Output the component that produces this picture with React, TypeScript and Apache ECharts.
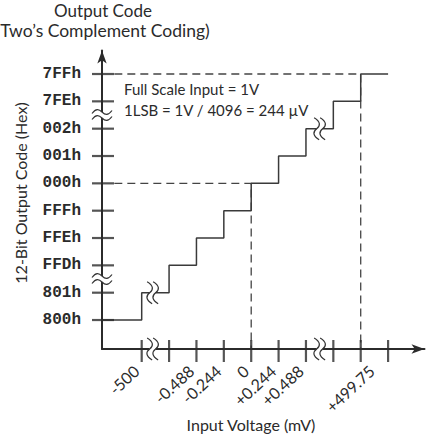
import React, { useEffect, useRef } from "react";
import * as echarts from "echarts";

// ---- data ----
const codeLabels = ["800h", "801h", "FFDh", "FFEh", "FFFh", "000h", "001h", "002h", "7FEh", "7FFh"];
const codeLevels = [0, 1, 2, 3, 4, 5, 6, 7, 8, 9];
const xTickPositions = [1, 2, 3, 4, 5, 6, 7, 8, 9, 10];
// label anchor positions along the x axis (the +499.75 label sits a little right of its tick in the reference)
const xLabelPositions = [1, 3, 4, 5, 6, 7, 9.6];
const xLabelTexts = ["-500", "-0.488", "-0.244", "0", "+0.244", "+0.488", "+499.75"];
// staircase: transition points (x position, code level)
const stairX = [1, 2, 3, 4, 5, 6, 7, 8, 9, 10];
const stairY = [1, 2, 3, 4, 5, 6, 7, 8, 9, 9];
const zeroCode = 5; // 000h
const zeroX = 5; // 0 mV
const fullCode = 9; // 7FFh
const fullX = 9; // +499.75 mV
const xAxisBreaks = [1.4, 7.5];
const yAxisBreaks = [1.5, 7.5];
const lineBreaks: [number, number][] = [[1.4, 1], [7.5, 7]];

const X_MIN = -0.45;
const X_MAX = 11.33;
const Y_MIN = -1.06;
const Y_MAX = 9.86;

const INK = "#2b2b2b";
const SANS = "Lato, 'Open Sans', sans-serif";

export default function App() {
  const ref = useRef<HTMLDivElement>(null);
  useEffect(() => {
    if (!ref.current) return;
    document.body.style.margin = "0";
    const chart = echarts.init(ref.current, undefined, { renderer: "svg" });

    const stairData: number[][] = [[X_MIN, 0]];
    stairX.forEach((x, i) => stairData.push([x, stairY[i]]));

    const breakData: number[][] = [
      ...xAxisBreaks.map((x) => [x, Y_MIN, 0]),
      ...yAxisBreaks.map((y) => [X_MIN, y, 1]),
      ...lineBreaks.map(([x, y]) => [x, y, 0]),
    ];

    const squiggleV = (cx: number, cy: number) =>
      `M${cx - 2.5} ${cy - 11} C${cx + 4} ${cy - 7} ${cx + 4} ${cy - 3} ${cx} ${cy} C${cx - 4} ${cy + 3} ${cx - 4} ${cy + 7} ${cx + 2.5} ${cy + 11}`;
    const squiggleH = (cx: number, cy: number) =>
      `M${cx - 10} ${cy + 1.5} C${cx - 6} ${cy - 4} ${cx - 3} ${cy - 3} ${cx} ${cy} C${cx + 3} ${cy + 3} ${cx + 6} ${cy + 4} ${cx + 10} ${cy - 1.5}`;

    const labelFor = (v: number) => {
      let best = -1;
      let bd = Infinity;
      xLabelPositions.forEach((p, i) => {
        const d = Math.abs(p - v);
        if (d < bd) { bd = d; best = i; }
      });
      return bd < 0.01 ? xLabelTexts[best] : "";
    };

    chart.setOption({
      animation: false,
      grid: { left: 102, right: 7.5, top: 50.5, bottom: 85, outerBoundsMode: "none" },
      xAxis: {
        type: "value",
        min: X_MIN,
        max: X_MAX,
        splitLine: { show: false },
        axisTick: { show: false },
        axisLine: {
          show: true,
          onZero: false,
          symbol: ["none", "arrow"],
          symbolSize: [7, 13],
          lineStyle: { color: INK, width: 2 },
        },
        axisLabel: {
          customValues: xLabelPositions,
          formatter: (v: number) => labelFor(v),
          rotate: 43,
          margin: 25,
          verticalAlign: "bottom",
          fontFamily: SANS,
          fontSize: 16,
          color: INK,
        },
      },
      yAxis: {
        type: "value",
        min: Y_MIN,
        max: Y_MAX,
        splitLine: { show: false },
        axisTick: { show: false },
        axisLine: {
          show: true,
          onZero: false,
          symbol: ["none", "arrow"],
          symbolSize: [7, 13],
          lineStyle: { color: INK, width: 2 },
        },
        axisLabel: {
          customValues: codeLevels,
          formatter: (v: number) => codeLabels[Math.round(v)] ?? "",
          margin: 21,
          fontFamily: "'Liberation Mono', 'Courier New', monospace",
          fontWeight: "bold",
          fontSize: 16,
          color: INK,
        },
      },
      series: [
        {
          type: "line",
          data: stairData,
          step: "end",
          symbol: "none",
          lineStyle: { color: "#3a3a3a", width: 1.5 },
          z: 3,
        },
        {
          type: "line",
          data: [[0, fullCode], [fullX, fullCode], [fullX, Y_MIN]],
          symbol: "none",
          lineStyle: { color: "#444", width: 1.3, type: [8, 5] },
          z: 2,
        },
        {
          type: "line",
          data: [[0, zeroCode], [zeroX, zeroCode], [zeroX, Y_MIN]],
          symbol: "none",
          lineStyle: { color: "#444", width: 1.3, type: [8, 5] },
          z: 2,
        },
        {
          type: "scatter",
          data: codeLevels.map((c) => [X_MIN, c]),
          symbol: "rect",
          symbolSize: [22, 2.2],
          symbolOffset: [1, 0],
          itemStyle: { color: INK },
          clip: false,
          silent: true,
          z: 4,
        },
        {
          type: "scatter",
          data: xTickPositions.map((x) => [x, Y_MIN]),
          symbol: "rect",
          symbolSize: [2.2, 22],
          symbolOffset: [0, 2],
          itemStyle: { color: INK },
          clip: false,
          silent: true,
          z: 4,
        },
        {
          type: "custom",
          data: breakData,
          clip: false,
          silent: true,
          z: 10,
          renderItem: (params: any, api: any) => {
            const pt = api.coord([api.value(0), api.value(1)]);
            const cx = pt[0];
            const cy = pt[1];
            const o = api.value(2);
            const d = 3;
            const children: any[] = [];
            if (o === 0) {
              children.push({ type: "rect", shape: { x: cx - d, y: cy - 3, width: 2 * d, height: 6 }, style: { fill: "#fff" } });
              for (const dx of [-d, d]) {
                children.push({ type: "path", shape: { pathData: squiggleV(cx + dx, cy) }, style: { fill: "none", stroke: "#333", lineWidth: 1.2 } });
              }
            } else {
              children.push({ type: "rect", shape: { x: cx - 3, y: cy - d, width: 6, height: 2 * d }, style: { fill: "#fff" } });
              for (const dy of [-d, d]) {
                children.push({ type: "path", shape: { pathData: squiggleH(cx, cy + dy) }, style: { fill: "none", stroke: "#333", lineWidth: 1.2 } });
              }
            }
            return { type: "group", children };
          },
        },
      ],
      graphic: [
        { type: "text", x: 103, y: 10, style: { text: "Output Code", font: `17px ${SANS}`, fill: INK, align: "center", verticalAlign: "middle" } },
        { type: "text", x: 105, y: 30, style: { text: "Two\u2019s Complement Coding)", font: `17.5px ${SANS}`, fill: INK, align: "center", verticalAlign: "middle" } },
        { type: "text", x: 124, y: 89, style: { text: "Full Scale Input = 1V", font: `15px ${SANS}`, fill: INK, align: "left", verticalAlign: "middle" } },
        { type: "text", x: 124, y: 110, style: { text: "1LSB = 1V / 4096 = 244 \u00B5V", font: `15px ${SANS}`, fill: INK, align: "left", verticalAlign: "middle" } },
        { type: "text", x: 251, y: 424, style: { text: "Input Voltage (mV)", font: `16px ${SANS}`, fill: INK, align: "center", verticalAlign: "middle" } },
        { type: "text", x: 20, y: 193, rotation: Math.PI / 2, style: { text: "12-Bit Output Code (Hex)", font: `16px ${SANS}`, fill: INK, align: "center", verticalAlign: "middle" } },
      ],
    });
    return () => chart.dispose();
  }, []);
  return <div ref={ref} style={{ width: 432, height: 434 }} />;
}
